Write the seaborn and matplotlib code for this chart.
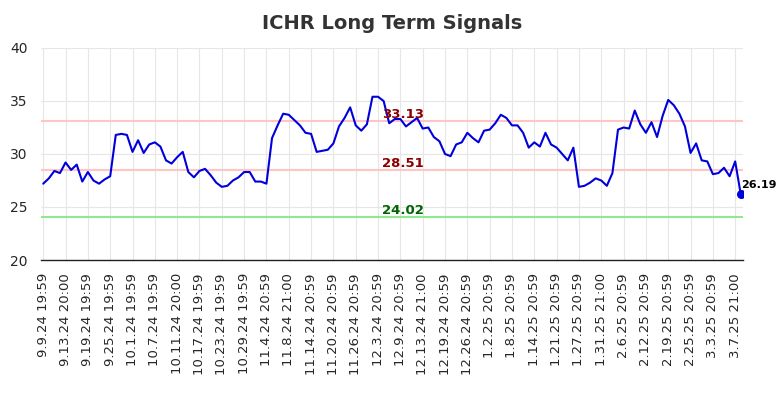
import matplotlib
matplotlib.use("Agg")
import matplotlib.pyplot as plt
import seaborn as sns
import numpy as np
import pandas as pd

title = "ICHR Long Term Signals"
values = [
    27.2, 27.7, 28.4, 28.2, 29.2, 28.5, 29.0, 27.4, 28.3, 27.5,
    27.2, 27.6, 27.9, 31.8, 31.9, 31.8, 30.2, 31.3, 30.1, 30.9,
    31.1, 30.7, 29.4, 29.1, 29.7, 30.2, 28.3, 27.8, 28.4, 28.6,
    28.0, 27.3, 26.9, 27.0, 27.5, 27.8, 28.3, 28.3, 27.4, 27.4,
    27.2, 31.5, 32.7, 33.8, 33.7, 33.2, 32.7, 32.0, 31.9, 30.2,
    30.3, 30.4, 31.0, 32.6, 33.4, 34.4, 32.7, 32.2, 32.8, 35.4,
    35.4, 35.0, 32.9, 33.3, 33.3, 32.6, 33.0, 33.4, 32.4, 32.5,
    31.6, 31.2, 30.0, 29.8, 30.9, 31.1, 32.0, 31.5, 31.1, 32.2,
    32.3, 32.9, 33.7, 33.4, 32.7, 32.7, 32.0, 30.6, 31.1, 30.7,
    32.0, 30.9, 30.6, 30.0, 29.4, 30.6, 26.9, 27.0, 27.3, 27.7,
    27.5, 27.0, 28.2, 32.3, 32.5, 32.4, 34.1, 32.8, 32.0, 33.0,
    31.6, 33.6, 35.1, 34.6, 33.8, 32.6, 30.1, 31.0, 29.4, 29.3,
    28.1, 28.2, 28.7, 27.9, 29.3, 26.19,
]
tick_labels = [
    "9.9.24 19:59", "9.13.24 20:00", "9.19.24 19:59", "9.25.24 19:59",
    "10.1.24 19:59", "10.7.24 19:59", "10.11.24 20:00", "10.17.24 19:59",
    "10.23.24 19:59", "10.29.24 19:59", "11.4.24 20:59", "11.8.24 21:00",
    "11.14.24 20:59", "11.20.24 20:59", "11.26.24 20:59", "12.3.24 20:59",
    "12.9.24 20:59", "12.13.24 21:00", "12.19.24 20:59", "12.26.24 20:59",
    "1.2.25 20:59", "1.8.25 20:59", "1.14.25 20:59", "1.21.25 20:59",
    "1.27.25 20:59", "1.31.25 21:00", "2.6.25 20:59", "2.12.25 20:59",
    "2.19.25 20:59", "2.25.25 20:59", "3.3.25 20:59", "3.7.25 21:00",
]
levels = [33.13, 28.51, 24.02]
level_labels = ["33.13", "28.51", "24.02"]
level_line_colors = ["#ffc4c4", "#ffc4c4", "#90e890"]
level_text_colors = ["#8b0000", "#8b0000", "#006400"]
last_label = "26.19"

sns.set_theme(style="whitegrid")
plt.rcParams['font.family'] = ['DejaVu Sans']

df = pd.DataFrame({"idx": np.arange(len(values)), "value": values})

fig = plt.figure(figsize=(7.84, 4.0), dpi=100)
ax = fig.add_axes([41 / 784, 1 - 260 / 400, (743 - 41) / 784, (260 - 48) / 400])

for lv, lc in zip(levels, level_line_colors):
    ax.axhline(lv, color=lc, linewidth=1.5, zorder=1)

sns.lineplot(data=df, x="idx", y="value", color="#0000dd", linewidth=1.5, ax=ax, zorder=3)

last_i = len(values) - 1
ax.scatter([last_i], [values[-1]], color="#0000dd", s=30, zorder=4)
ax.annotate(last_label, (last_i, values[-1]), xytext=(0, 3), textcoords="offset points",
            fontsize=8, fontweight="bold", color="black", ha="left", va="bottom")

text_x = 64.5
for lv, lt, tc in zip(levels, level_labels, level_text_colors):
    ax.text(text_x, lv, lt, color=tc, fontsize=9.5, fontweight="bold",
            ha="center", va="bottom")

ax.set_xlim(-0.4, 125.4)
ax.set_ylim(20, 40)
ax.set_yticks([20, 25, 30, 35, 40])
ticks = list(range(0, len(values), 4))[:len(tick_labels)]
ax.set_xticks(ticks)
ax.set_xticklabels(tick_labels, rotation=90, fontsize=9.5)
ax.tick_params(axis="y", labelsize=10)
ax.set_xlabel("")
ax.set_ylabel("")
ax.grid(True, color="#e6e6e6", linewidth=0.8)
for s in ["top", "right", "left"]:
    ax.spines[s].set_visible(False)
ax.spines["bottom"].set_color("#222222")
ax.spines["bottom"].set_linewidth(1.0)
ax.set_facecolor("white")
ax.set_title(title, fontsize=14, fontweight="bold", color="#333333", pad=14)

fig.savefig("out.png", dpi=100)
